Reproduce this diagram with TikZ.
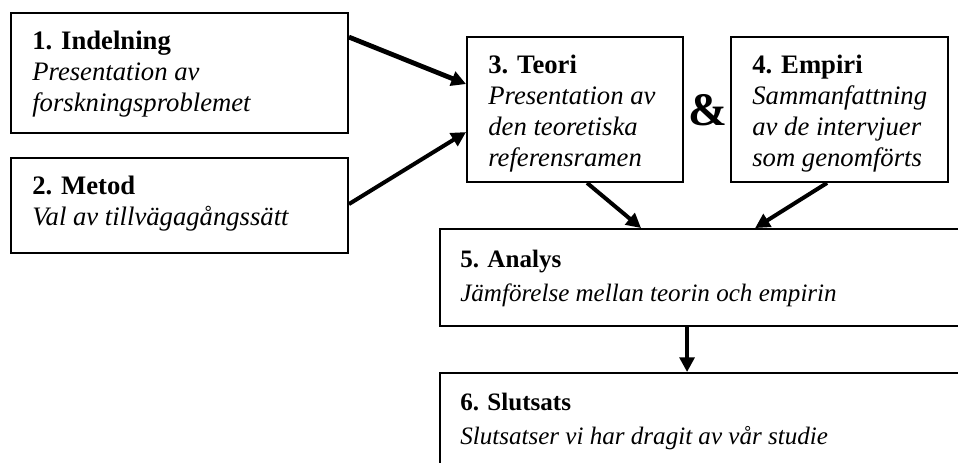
\documentclass[tikz,border=0pt]{standalone}
\usepackage{fontspec}
\setmainfont{Liberation Serif}
\usetikzlibrary{arrows.meta,calc,fit}
\begin{document}
\begin{tikzpicture}[x=0.75pt,y=-0.75pt,
  box/.style={draw=black,line width=1.4pt,inner sep=0pt,rectangle},
  txt/.style={anchor=north west,inner sep=0pt,align=left,font=\fontsize{20}{23.25}\selectfont},
  wtxt/.style={anchor=north west,inner sep=0pt,align=left,font=\fontsize{18.8}{25}\selectfont},
  arr/.style={line width=3pt,-{Triangle[length=11pt,width=11pt]}}]
\useasboundingbox (0,0) rectangle (958,462);
\clip (0,0) rectangle (958,462);
\node[box,fit={(11,13) (348,133)}] (b1) {};
\node[box,fit={(11,158) (348,253)}] (b2) {};
\node[box,fit={(467,37) (683,182)}] (b3) {};
\node[box,fit={(731,37) (948,182)}] (b4) {};
\node[box,fit={(440,229) (985,326)}] (b5) {};
\node[box,fit={(440,373) (985,495)}] (b6) {};
\node[txt] (t1) at ($(b1.north west)+(22,19)$) {\textbf{1. Indelning}\\\textit{Presentation av}\\\textit{forskningsproblemet}};
\node[txt] (t2) at ($(b2.north west)+(22,19)$) {\textbf{2. Metod}\\\textit{Val av tillvägagångssätt}};
\node[txt] (t3) at ($(b3.north west)+(22,19)$) {\textbf{3. Teori}\\\textit{Presentation av}\\\textit{den teoretiska}\\\textit{referensramen}};
\node[txt] (t4) at ($(b4.north west)+(22,19)$) {\textbf{4. Empiri}\\\textit{Sammanfattning}\\\textit{av de intervjuer}\\\textit{som genomförts}};
\node[wtxt] (t5) at ($(b5.north west)+(21,22)$) {\textbf{5. Analys}\\\textit{Jämförelse mellan teorin och empirin}};
\node[wtxt] (t6) at ($(b6.north west)+(21,21)$) {\textbf{6. Slutsats}\\\textit{Slutsatser vi har dragit av vår studie}};
\node[inner sep=0pt,font=\fontsize{35}{35}\selectfont\bfseries] (amp) at (708,110) {\&};
\draw[arr,line width=3.6pt] ($(b1.north east)+(0,25)$) -- ($(b3.north west)+(0,48)$);
\draw[arr] ($(b2.north east)+(0,47)$) -- ($(b3.north west)+(0,96)$);
\draw[arr] ($(b3.south west)+(121,0)$) -- ($(b5.north west)+(202,0)$);
\draw[arr] ($(b4.south west)+(97,0)$) -- ($(b5.north west)+(316,0)$);
\draw[arr] ($(b5.south west)+(248,0)$) -- ($(b6.north west)+(248,0)$);
\end{tikzpicture}
\end{document}
